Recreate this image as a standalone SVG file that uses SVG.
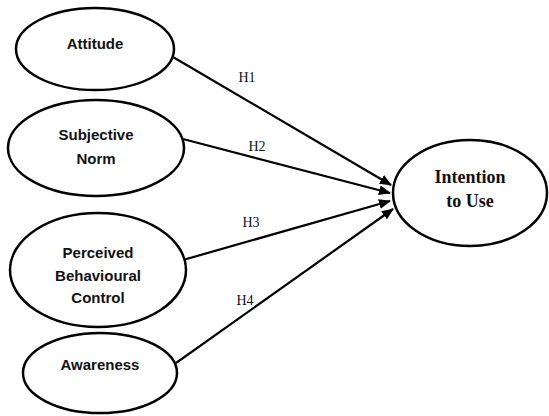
<svg xmlns="http://www.w3.org/2000/svg" width="549" height="416" viewBox="0 0 549 416">
<style>
.node ellipse{fill:#fff;stroke:#000;stroke-width:2.5}
.lbl{font-family:"Liberation Sans",Arial,sans-serif;font-weight:bold;font-size:15px;fill:#111;text-anchor:middle}
.tgt{font-family:"Liberation Serif","Times New Roman",serif;font-weight:bold;font-size:18px;fill:#111;text-anchor:middle}
.h{font-family:"Liberation Serif","Times New Roman",serif;font-size:14px;fill:#111;text-anchor:middle}
.edges line{stroke:#000;stroke-width:2.2;marker-end:url(#ah)}
</style>
<defs>
<marker id="ah" markerWidth="12" markerHeight="10" refX="11" refY="5" orient="auto" markerUnits="userSpaceOnUse">
<path d="M0,0 L12,5 L0,10 Z" fill="#000"/>
</marker>
</defs>
<rect width="549" height="416" fill="#fff"/>
<g class="edges" id="connectors">
<line x1="173" y1="57" x2="391" y2="185"/>
<line x1="183" y1="139" x2="390" y2="193"/>
<line x1="183" y1="260" x2="390" y2="201"/>
<line x1="176" y1="363" x2="393" y2="209"/>
<text class="h" x="247" y="82">H1</text>
<text class="h" x="257" y="151">H2</text>
<text class="h" x="251" y="227">H3</text>
<text class="h" x="245" y="305">H4</text>
</g>
<g class="node" id="attitude">
<ellipse cx="95" cy="49" rx="79" ry="41"/>
<text class="lbl" x="95" y="49">Attitude</text>
</g>
<g class="node" id="subjective-norm">
<ellipse cx="96" cy="148" rx="88" ry="48"/>
<text class="lbl" x="96" y="140">Subjective</text>
<text class="lbl" x="96" y="164">Norm</text>
</g>
<g class="node" id="pbc">
<ellipse cx="98" cy="270" rx="88" ry="57"/>
<text class="lbl" x="98" y="258">Perceived</text>
<text class="lbl" x="98" y="281">Behavioural</text>
<text class="lbl" x="98" y="303">Control</text>
</g>
<g class="node" id="awareness">
<ellipse cx="100" cy="373" rx="77" ry="40"/>
<text class="lbl" x="100" y="370">Awareness</text>
</g>
<g class="node" id="intention">
<ellipse cx="470" cy="193" rx="77" ry="53"/>
<text class="tgt" x="470" y="183">Intention</text>
<text class="tgt" x="470" y="207">to Use</text>
</g>
</svg>
